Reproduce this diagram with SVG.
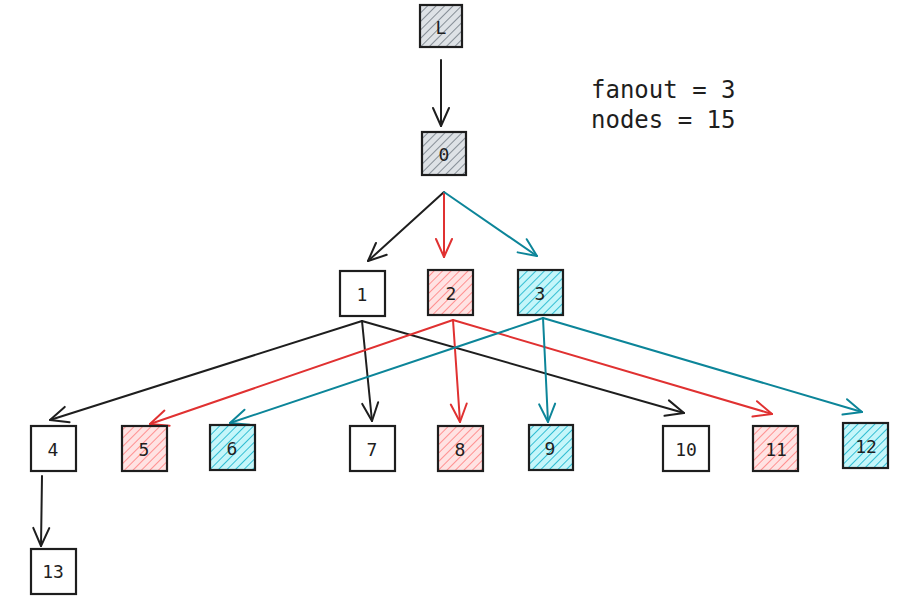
<svg xmlns="http://www.w3.org/2000/svg" width="904" height="606" viewBox="0 0 904 606">
<defs>
<pattern id="hg" width="6" height="6" patternUnits="userSpaceOnUse" patternTransform="rotate(45)"><rect width="6" height="6" fill="#dee2e6"/><line x1="0" y1="0" x2="0" y2="6" stroke="#868e96" stroke-width="2"/></pattern>
<pattern id="hr" width="6" height="6" patternUnits="userSpaceOnUse" patternTransform="rotate(45)"><rect width="6" height="6" fill="#ffe3e3"/><line x1="0" y1="0" x2="0" y2="6" stroke="#ff8787" stroke-width="1.8"/></pattern>
<pattern id="ht" width="6" height="6" patternUnits="userSpaceOnUse" patternTransform="rotate(45)"><rect width="6" height="6" fill="#c5f6fa"/><line x1="0" y1="0" x2="0" y2="6" stroke="#22b8cf" stroke-width="1.8"/></pattern>
<marker id="ak" markerWidth="26" markerHeight="26" refX="22" refY="13" orient="auto" markerUnits="userSpaceOnUse"><path d="M4 5 L22 13 L4 21" fill="none" stroke="#1e1e1e" stroke-width="2" stroke-linecap="round" stroke-linejoin="round"/></marker>
<marker id="ar" markerWidth="26" markerHeight="26" refX="22" refY="13" orient="auto" markerUnits="userSpaceOnUse"><path d="M4 5 L22 13 L4 21" fill="none" stroke="#e03131" stroke-width="2" stroke-linecap="round" stroke-linejoin="round"/></marker>
<marker id="at" markerWidth="26" markerHeight="26" refX="22" refY="13" orient="auto" markerUnits="userSpaceOnUse"><path d="M4 5 L22 13 L4 21" fill="none" stroke="#0c8599" stroke-width="2" stroke-linecap="round" stroke-linejoin="round"/></marker>
</defs>
<style>
.n rect{stroke:#1e1e1e;stroke-width:2.2}
.w{fill:#ffffff}
.g{fill:url(#hg)}
.r{fill:url(#hr)}
.t{fill:url(#ht)}
.n text{font-family:"DejaVu Sans Mono","Liberation Mono",monospace;font-size:18px;fill:#1e1e1e;text-anchor:middle;dominant-baseline:central}
.c path{fill:none;stroke-width:2;stroke-linecap:round}
.k{stroke:#1e1e1e;marker-end:url(#ak)}
.cr{stroke:#e03131;marker-end:url(#ar)}
.ct{stroke:#0c8599;marker-end:url(#at)}
.info{font-family:"DejaVu Sans Mono","Liberation Mono",monospace;font-size:24px;fill:#1e1e1e}
</style>
<rect width="904" height="606" fill="#ffffff"/>
<g id="connectors" class="c">
<path class="k" d="M441 60 L441 126"/>
<path class="k" d="M444 192 L368 261"/>
<path class="cr" d="M444 192 L444 257"/>
<path class="ct" d="M444 192 L537 256"/>
<path class="k" d="M362 321 L50 420"/>
<path class="k" d="M362 321 L372 421"/>
<path class="k" d="M362 321 L684 413"/>
<path class="cr" d="M453 320 L150 424"/>
<path class="cr" d="M453 320 L460 422"/>
<path class="cr" d="M453 320 L772 414"/>
<path class="ct" d="M543 318 L230 423"/>
<path class="ct" d="M543 318 L548 422"/>
<path class="ct" d="M543 318 L862 412"/>
<path class="k" d="M42 476 L41 546"/>
</g>
<g id="node-L" class="n"><rect class="g" x="420" y="5" width="42" height="42"/><text x="441" y="27">L</text></g>
<g id="node-0" class="n"><rect class="g" x="422" y="132" width="44" height="43"/><text x="444" y="154">0</text></g>
<g id="node-1" class="n"><rect class="w" x="340" y="271" width="45" height="45"/><text x="362" y="294">1</text></g>
<g id="node-2" class="n"><rect class="r" x="428" y="270" width="45" height="45"/><text x="451" y="293">2</text></g>
<g id="node-3" class="n"><rect class="t" x="518" y="270" width="45" height="45"/><text x="540" y="293">3</text></g>
<g id="node-4" class="n"><rect class="w" x="31" y="426" width="45" height="45"/><text x="53" y="449">4</text></g>
<g id="node-5" class="n"><rect class="r" x="122" y="426" width="45" height="45"/><text x="144" y="449">5</text></g>
<g id="node-6" class="n"><rect class="t" x="210" y="425" width="45" height="45"/><text x="232" y="448">6</text></g>
<g id="node-7" class="n"><rect class="w" x="350" y="426" width="45" height="45"/><text x="372" y="449">7</text></g>
<g id="node-8" class="n"><rect class="r" x="438" y="426" width="45" height="45"/><text x="460" y="449">8</text></g>
<g id="node-9" class="n"><rect class="t" x="529" y="425" width="44" height="45"/><text x="550" y="448">9</text></g>
<g id="node-10" class="n"><rect class="w" x="663" y="426" width="46" height="45"/><text x="686" y="449">10</text></g>
<g id="node-11" class="n"><rect class="r" x="753" y="426" width="45" height="45"/><text x="776" y="449">11</text></g>
<g id="node-12" class="n"><rect class="t" x="843" y="423" width="45" height="45"/><text x="866" y="446">12</text></g>
<g id="node-13" class="n"><rect class="w" x="31" y="549" width="45" height="45"/><text x="53" y="571">13</text></g>
<g id="info">
<text class="info" x="591" y="98">fanout = 3</text>
<text class="info" x="591" y="128">nodes = 15</text>
</g>
</svg>
